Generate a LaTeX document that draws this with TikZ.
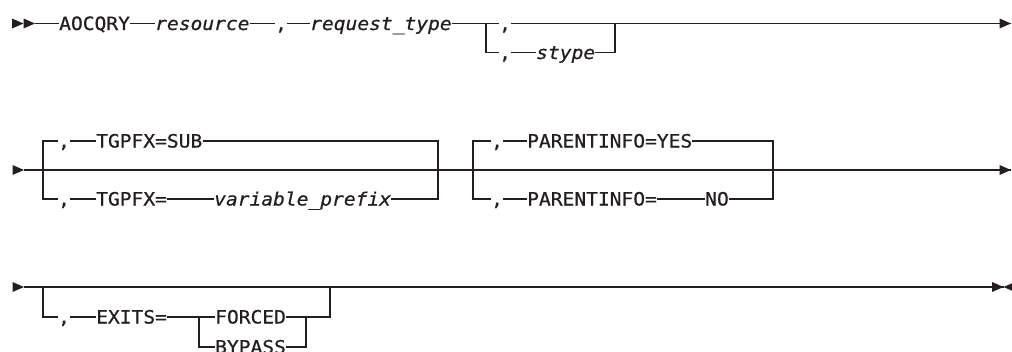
\documentclass[tikz,border=0pt]{standalone}
\usepackage{fontspec}
\usepackage{tikz}
\usetikzlibrary{arrows}

\newfontfamily\railfont[FakeStretch=1.07,FakeBold=0.7]{DejaVu Sans Mono}
\definecolor{ink}{RGB}{35,31,32}

\tikzset{
  kw/.style={inner sep=0pt, anchor=west, text height=13pt, text depth=0pt,
    text=ink, font=\railfont\fontsize{18.3}{20}\selectfont},
  var/.style={kw, font=\railfont\fontsize{18.3}{20}\selectfont\itshape},
  rail/.style={draw=ink, line width=1.25pt},
  tip/.style={fill=ink},
}
% filled head pointing right, tip at #1
\newcommand\railtip[1]{\fill[tip] (#1) -- ++(-11.5,5) -- ++(0,-10) -- cycle;}

\begin{document}
\begin{tikzpicture}[x=1pt,y=1pt,yscale=-1,xscale=1]
\useasboundingbox (0,0) rectangle (1012,351);

%Row 1: AOCQRY resource , request_type [, stype]
\coordinate (r1s) at (35,23.5);
\coordinate (r1e) at (1011,23.5);
\node[kw]  (aocqry)   at (59,23.5)  {AOCQRY};
\node[var] (resource) at (155,23.5) {resource};
\node[kw]  (c1)       at (275,23.5) {,};
\node[var] (reqtype)  at (310,23.5) {request\_type};
\coordinate (b1l)  at (486,23.5);
\coordinate (b1r)  at (615,23.5);
\node[kw]  (c2)    at (499,23.5) {,};
\node[kw]  (c3)    at (499,52.5) {,};
\node[var] (stype) at (536,52.5) {stype};

\railtip{[xshift=-11.5pt]r1s}
\railtip{r1s}
\draw[rail] (r1s) -- (aocqry.west);
\draw[rail] (aocqry.east) -- (resource.west);
\draw[rail] (resource.east) -- (c1.west);
\draw[rail] (c1.east) -- (reqtype.west);
\draw[rail] (reqtype.east) -- (c2.west);
\draw[rail] (c2.east) -- (r1e);
\draw[rail] (b1l) |- (c3.west);
\draw[rail] (c3.east) -- (stype.west);
\draw[rail] (stype.east) -| (b1r);
\railtip{r1e}

%Row 2: TGPFX and PARENTINFO choices
\coordinate (r2s) at (24,170);
\coordinate (r2e) at (1011,170);
\coordinate (a2) at (43,199);
\coordinate (a4) at (438,199);
\node[kw]  (ca1)    at (58,141)  {,};
\node[kw]  (tgsub)  at (96,141)  {TGPFX=SUB};
\node[kw]  (ca2)    at (58,199)  {,};
\node[kw]  (tgpfx)  at (96,199)  {TGPFX=};
\node[var] (varpfx) at (214,199) {variable\_prefix};

\coordinate (pb2) at (473,199);
\coordinate (pb4) at (773,199);
\node[kw] (cb1)  at (491,141) {,};
\node[kw] (pyes) at (527,141) {PARENTINFO=YES};
\node[kw] (cb2)  at (491,199) {,};
\node[kw] (peq)  at (527,199) {PARENTINFO=};
\node[kw] (pno)  at (705,199) {NO};

\railtip{r2s}
\draw[rail] (r2s) -- (r2e);
\draw[rail] (ca1.west) -| (a2) -- (ca2.west);
\draw[rail] (ca1.east) -- (tgsub.west);
\draw[rail] (tgsub.east) -| (a4) -- (varpfx.east);
\draw[rail] (ca2.east) -- (tgpfx.west);
\draw[rail] (tgpfx.east) -- (varpfx.west);

\draw[rail] (cb1.west) -| (pb2) -- (cb2.west);
\draw[rail] (cb1.east) -- (pyes.west);
\draw[rail] (pyes.east) -| (pb4) -- (pno.east);
\draw[rail] (cb2.east) -- (peq.west);
\draw[rail] (peq.east) -- (pno.west);
\railtip{r2e}

%Row 3: optional EXITS= FORCED | BYPASS
\coordinate (r3s) at (24,287);
\coordinate (r3e) at (1003.5,287);
\coordinate (e1) at (43,287);
\coordinate (n1) at (199,317);
\coordinate (n3) at (306,317);
\coordinate (e3) at (330,287);
\node[kw] (ce)     at (58,317)  {,};
\node[kw] (exits)  at (96,317)  {EXITS=};
\node[kw] (forced) at (215,317) {FORCED};
\node[kw] (bypass) at (215,347) {BYPASS};

\railtip{r3s}
\draw[rail] (r3s) -- (r3e);
\draw[rail] (e1) |- (ce.west);
\draw[rail] (ce.east) -- (exits.west);
\draw[rail] (exits.east) -- (forced.west);
\draw[rail] (n1) |- (bypass.west);
\draw[rail] (bypass.east) -| (n3);
\draw[rail] (forced.east) -| (e3);
\railtip{r3e}
\fill[tip] (r3e) -- ++(11.5,5) -- ++(0,-10) -- cycle;

\end{tikzpicture}
\end{document}
